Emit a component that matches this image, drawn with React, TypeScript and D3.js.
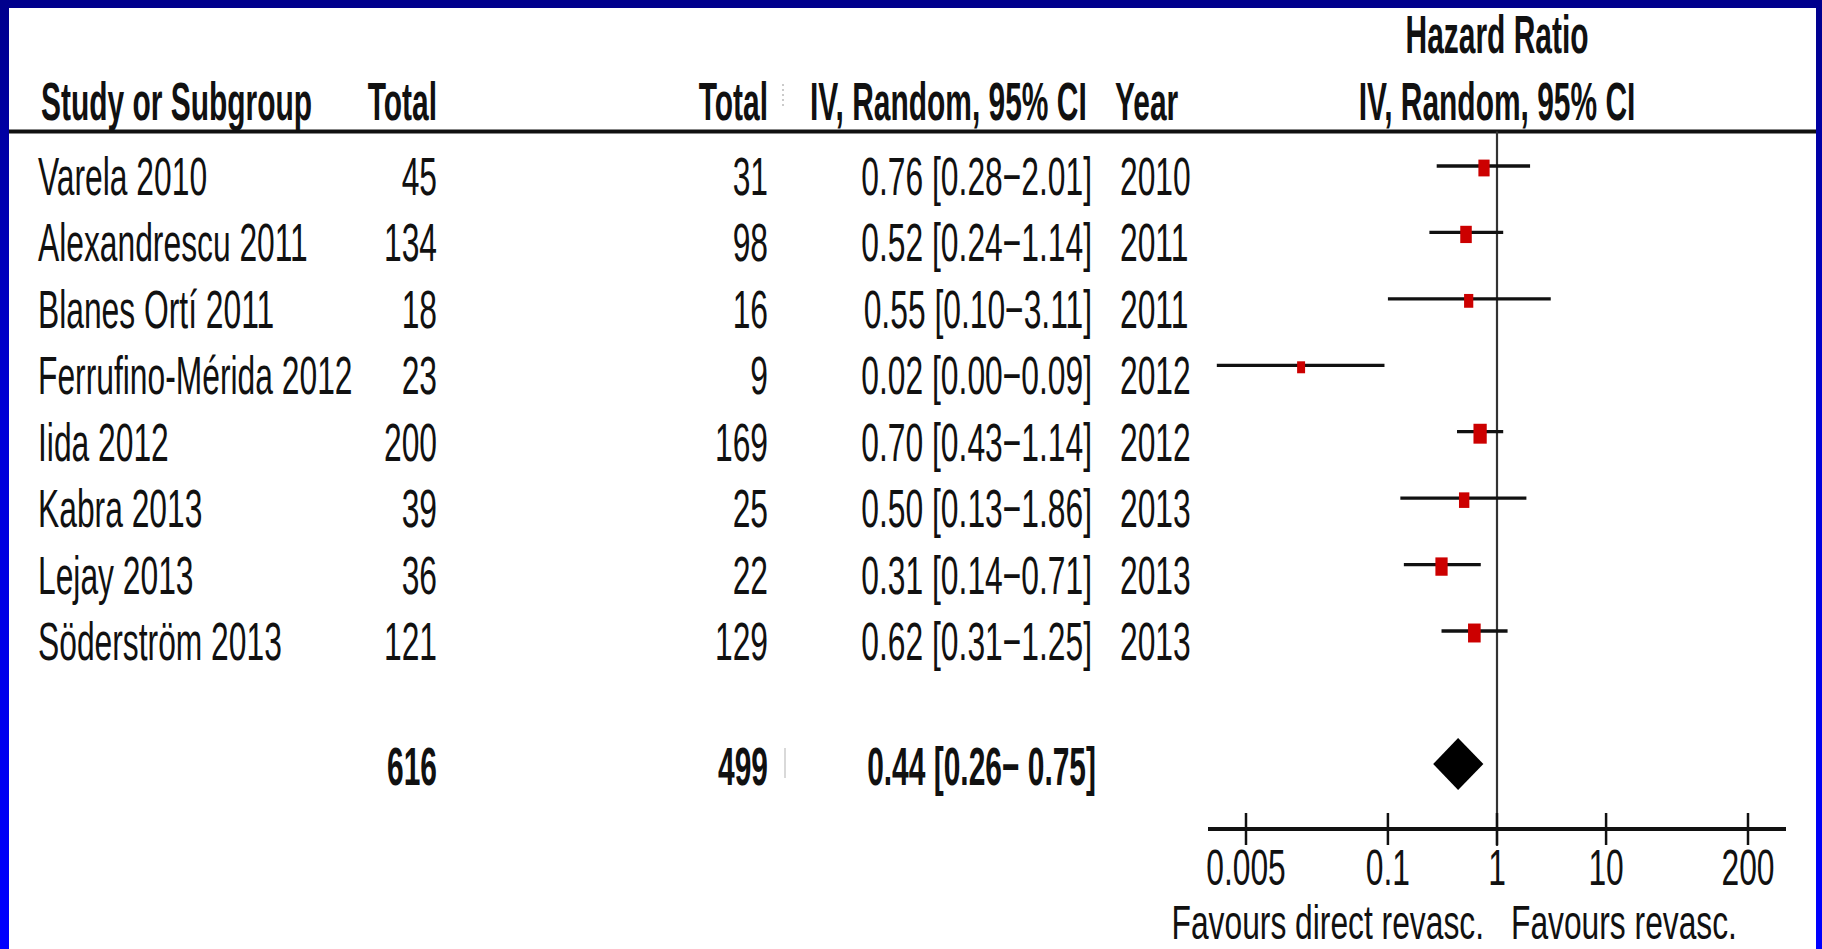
import React from "react";
import * as d3 from "d3";

// Study-level data for the forest plot
const studies = [
  "Varela 2010",
  "Alexandrescu 2011",
  "Blanes Ortí 2011",
  "Ferrufino-Mérida 2012",
  "Iida 2012",
  "Kabra 2013",
  "Lejay 2013",
  "Söderström 2013",
];
const totalDirect = [45, 134, 18, 23, 200, 39, 36, 121];
const totalRevasc = [31, 98, 16, 9, 169, 25, 22, 129];
const hazardRatio = [0.76, 0.52, 0.55, 0.016, 0.7, 0.5, 0.31, 0.62];
const ciLower = [0.28, 0.24, 0.1, 0.0027, 0.43, 0.13, 0.14, 0.31];
const ciUpper = [2.01, 1.14, 3.11, 0.093, 1.14, 1.86, 0.71, 1.25];
const years = [2010, 2011, 2011, 2012, 2012, 2013, 2013, 2013];
const weights = [11.5, 12.5, 6.0, 3.5, 19.0, 9.0, 15.0, 16.5];

// Pooled (random effects) estimate
const pooledTotals = [616, 499];
const pooledHR = 0.44;
const pooledLower = 0.26;
const pooledUpper = 0.75;

const axisTicks = [0.005, 0.1, 1, 10, 200];
const favoursLeft = "Favours direct revasc.";
const favoursRight = "Favours revasc.";

const W = 1822;
const H = 949;
const FONT = "'Liberation Sans', Arial, sans-serif";
const FS = 53;
const SX = 0.6; // condensed look of the table font
const SXB = 0.565;

type TProps = {
  x: number;
  y: number;
  anchor?: "start" | "middle" | "end";
  bold?: boolean;
  size?: number;
  sx?: number;
  children: React.ReactNode;
};

function T({ x, y, anchor = "start", bold = false, size = FS, sx, children }: TProps) {
  const scaleX = sx ?? (bold ? SXB : SX);
  return (
    <text
      transform={`translate(${x},${y}) scale(${scaleX},1)`}
      textAnchor={anchor}
      fontFamily={FONT}
      fontSize={size}
      fontWeight={bold ? 700 : 400}
      fill="#111"
    >
      {children}
    </text>
  );
}

const fmt = (v: number) => v.toFixed(2);

export default function App() {
  React.useEffect(() => {
    document.body.style.margin = "0";
  }, []);

  const x = d3.scaleLog().domain([0.005, 200]).range([1246, 1748]);
  const y = d3.scalePoint<string>().domain(studies).range([166, 631]);
  const boxW = d3.scaleSqrt().domain([0, 20]).range([4, 13.5]);

  const headerY = 120;
  const lineY = 131.5;
  const axisY = 829;
  const summaryY = 764;
  const textOffset = 29;

  const colName = 38;
  const colTotalA = 437;
  const colTotalB = 768;
  const colCI = 1092;
  const colYear = 1120;
  const x1 = x(1);

  const diamond = d3.line<[number, number]>()([
    [x(pooledLower), summaryY],
    [x(pooledHR), summaryY - 26],
    [x(pooledUpper), summaryY],
    [x(pooledHR), summaryY + 26],
  ]) as string;

  return (
    <svg
      width={W}
      height={H}
      style={{ position: "fixed", left: 0, top: 0, display: "block" }}
    >
      <defs>
        <linearGradient id="frame" x1="0" y1="0" x2="0" y2="1">
          <stop offset="0" stopColor="#00008c" />
          <stop offset="0.45" stopColor="#0000d8" />
          <stop offset="1" stopColor="#0000ff" />
        </linearGradient>
      </defs>
      <rect x={0} y={0} width={W} height={H} fill="url(#frame)" />
      <rect x={9} y={8} width={1807} height={H - 8} fill="#fff" />

      {/* Column headers */}
      <T x={1497} y={53} anchor="middle" bold>
        Hazard Ratio
      </T>
      <T x={41} y={headerY} bold>
        Study or Subgroup
      </T>
      <T x={colTotalA} y={headerY} anchor="end" bold>
        Total
      </T>
      <T x={colTotalB} y={headerY} anchor="end" bold>
        Total
      </T>
      <T x={810} y={headerY} bold>
        IV, Random, 95% CI
      </T>
      <T x={1115} y={headerY} bold>
        Year
      </T>
      <T x={1497} y={headerY} anchor="middle" bold>
        IV, Random, 95% CI
      </T>
      <line
        x1={783}
        x2={783}
        y1={84}
        y2={108}
        stroke="#bbb"
        strokeWidth={1.5}
        strokeDasharray="2 3"
      />
      <line x1={9} x2={1816} y1={lineY} y2={lineY} stroke="#111" strokeWidth={4} />

      {/* Null-effect line */}
      <line x1={x1} x2={x1} y1={lineY} y2={axisY + 17} stroke="#333" strokeWidth={2.2} />

      {/* Study rows */}
      {studies.map((s, i) => {
        const cy = y(s) as number;
        const bw = boxW(weights[i]);
        const bh = bw * 1.5;
        return (
          <g key={s}>
            <T x={colName} y={cy + textOffset}>
              {s}
            </T>
            <T x={colTotalA} y={cy + textOffset} anchor="end">
              {totalDirect[i]}
            </T>
            <T x={colTotalB} y={cy + textOffset} anchor="end">
              {totalRevasc[i]}
            </T>
            <T x={colCI} y={cy + textOffset} anchor="end">
              {`${fmt(hazardRatio[i])} [${fmt(ciLower[i])}\u2212${fmt(ciUpper[i])}]`}
            </T>
            <T x={colYear} y={cy + textOffset}>
              {years[i]}
            </T>
            <line
              x1={x(ciLower[i])}
              x2={x(ciUpper[i])}
              y1={cy}
              y2={cy}
              stroke="#111"
              strokeWidth={3.3}
            />
            <rect
              x={x(hazardRatio[i]) - bw / 2}
              y={cy - bh / 2 + 2}
              width={bw}
              height={bh}
              fill="#cc0000"
            />
          </g>
        );
      })}

      {/* Pooled estimate */}
      <T x={colTotalA} y={summaryY + 21} anchor="end" bold>
        {pooledTotals[0]}
      </T>
      <T x={colTotalB} y={summaryY + 21} anchor="end" bold>
        {pooledTotals[1]}
      </T>
      <line x1={785} x2={785} y1={748} y2={778} stroke="#ccc" strokeWidth={1.5} />
      <T x={1096} y={summaryY + 21} anchor="end" bold>
        {`${fmt(pooledHR)} [${fmt(pooledLower)}\u2212 ${fmt(pooledUpper)}]`}
      </T>
      <path d={diamond} fill="#000" />

      {/* Log axis */}
      <line x1={1208} x2={1786} y1={axisY} y2={axisY} stroke="#111" strokeWidth={4} />
      {axisTicks.map((t) => (
        <g key={t}>
          <line
            x1={x(t)}
            x2={x(t)}
            y1={axisY - 16}
            y2={axisY + 16}
            stroke="#111"
            strokeWidth={2.5}
          />
          <T x={x(t)} y={885} anchor="middle" size={50} sx={0.636}>
            {String(t)}
          </T>
        </g>
      ))}
      <T x={1484} y={939} anchor="end" size={48} sx={0.662}>
        {favoursLeft}
      </T>
      <T x={1511} y={939} size={48} sx={0.662}>
        {favoursRight}
      </T>
    </svg>
  );
}
